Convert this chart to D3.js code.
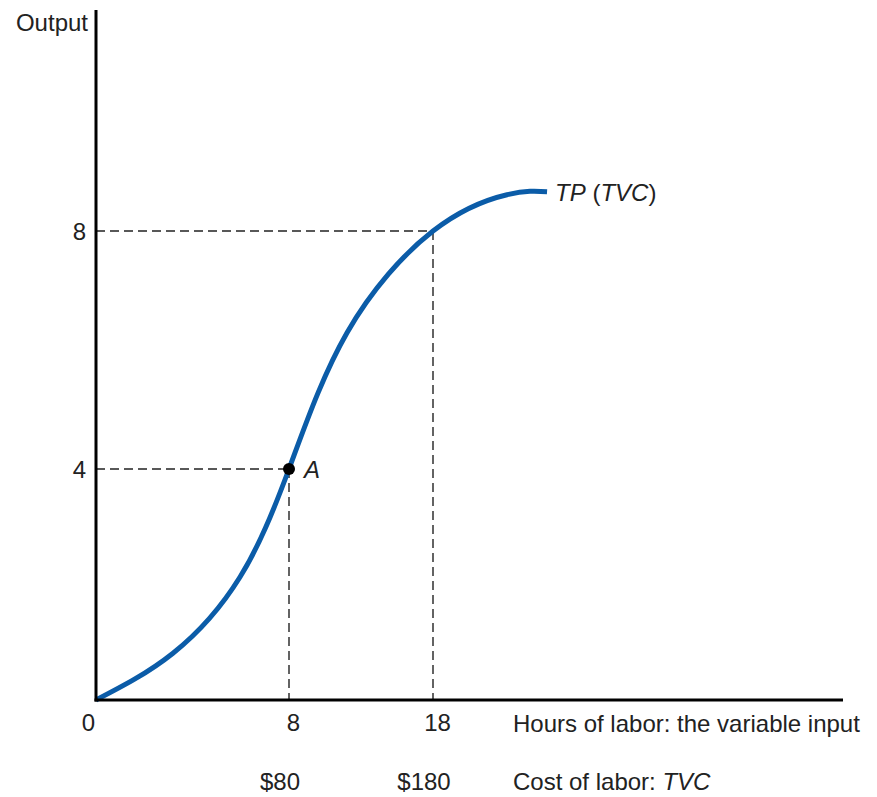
<!DOCTYPE html>
<html>
<head>
<meta charset="utf-8">
<script src="https://cdn.jsdelivr.net/npm/d3@7"></script>
<style>
  html, body { margin: 0; padding: 0; background: #fff; }
  svg { display: block; }
  text { font-family: "Liberation Sans", Arial, sans-serif; fill: #222; }
</style>
</head>
<body>
<svg id="chart" width="877" height="797"></svg>
<script>
// ---- data ----
const hoursTicks = [0, 8, 18];
const costTickHours = [8, 18];
const costLabels = ["$80", "$180"];
const outputTicks = [4, 8];
const tpHours  = [0, 3.19, 5.97, 8, 12.03, 18, 23.14, 25.92];
const tpOutput = [0, 0.81, 2.13, 4, 6.29, 8, 8.61, 8.66];
const pointA = { hours: 8, output: 4, label: "A" };
const guideHours = [8, 18];
const guideOutput = [4, 8];

// ---- layout ----
const svg = d3.select("#chart");
const x = d3.scaleLinear().domain([0, 8, 18]).range([96, 289, 433]);
const y = d3.scaleLinear().domain([0, 4, 8]).range([700, 469, 231]);
const axisRight = 843, axisTop = 10;
const fs = 24;

// dashed guides
const guides = svg.append("g")
  .attr("stroke", "#222").attr("stroke-width", 1.4)
  .attr("stroke-dasharray", "9,5").attr("fill", "none");
guideHours.forEach((h, i) => {
  const o = guideOutput[i];
  guides.append("line").attr("x1", x(0)).attr("y1", y(o)).attr("x2", x(h)).attr("y2", y(o));
  guides.append("line").attr("x1", x(h)).attr("y1", y(o)).attr("x2", x(h)).attr("y2", y(0));
});

// TP curve
const line = d3.line()
  .x((d, i) => x(tpHours[i]))
  .y(d => y(d))
  .curve(d3.curveNatural);
svg.append("path")
  .attr("d", line(tpOutput))
  .attr("fill", "none")
  .attr("stroke", "#0b5ca8")
  .attr("stroke-width", 5)
  .attr("stroke-linecap", "butt");

// axes lines
svg.append("line").attr("x1", x(0)).attr("y1", axisTop).attr("x2", x(0)).attr("y2", y(0) + 1.5)
  .attr("stroke", "#000").attr("stroke-width", 3);
svg.append("line").attr("x1", x(0) - 1.5).attr("y1", y(0)).attr("x2", axisRight).attr("y2", y(0))
  .attr("stroke", "#000").attr("stroke-width", 3);

// point A
svg.append("circle").attr("cx", x(pointA.hours)).attr("cy", y(pointA.output)).attr("r", 6).attr("fill", "#000");
svg.append("text").attr("x", x(pointA.hours) + 15).attr("y", y(pointA.output) + 9)
  .attr("font-size", fs).attr("font-style", "italic").text(pointA.label);

// y axis ticks
const yAxis = d3.axisLeft(y).tickValues(outputTicks).tickSize(0).tickPadding(10);
const gy = svg.append("g").attr("transform", `translate(${x(0)},0)`).call(yAxis);
gy.select(".domain").remove();
gy.selectAll("text").attr("font-size", fs).attr("dy", "0.36em").style("font-family", "Liberation Sans, Arial, sans-serif").attr("fill", "#222");

// x axis hours ticks
const xAxis = d3.axisBottom(x).tickValues(hoursTicks).tickSize(0).tickPadding(14).tickFormat(d3.format("d"));
const gx = svg.append("g").attr("transform", `translate(0,${y(0)})`).call(xAxis);
gx.select(".domain").remove();
gx.selectAll("text").attr("font-size", fs).style("font-family", "Liberation Sans, Arial, sans-serif").attr("fill", "#222")
  .attr("dx", d => d === 0 ? -8 : 4);

// cost ticks
svg.append("g").selectAll("text").data(costTickHours).join("text")
  .attr("x", d => x(d) - 9).attr("y", 790)
  .attr("text-anchor", "middle").attr("font-size", fs)
  .text((d, i) => costLabels[i]);

// axis titles
svg.append("text").attr("x", 88).attr("y", 31).attr("text-anchor", "end").attr("font-size", fs).text("Output");
svg.append("text").attr("x", 513).attr("y", 732).attr("font-size", fs).text("Hours of labor: the variable input");
const cost = svg.append("text").attr("x", 513).attr("y", 790).attr("font-size", fs);
cost.append("tspan").text("Cost of labor: ");
cost.append("tspan").attr("font-style", "italic").text("TVC");

// curve label
const tp = svg.append("text")
  .attr("x", x(tpHours[tpHours.length - 1]) + 8)
  .attr("y", y(tpOutput[tpOutput.length - 1]) + 9)
  .attr("font-size", fs);
tp.append("tspan").attr("font-style", "italic").text("TP");
tp.append("tspan").text(" (");
tp.append("tspan").attr("font-style", "italic").text("TVC");
tp.append("tspan").text(")");
</script>
</body>
</html>
